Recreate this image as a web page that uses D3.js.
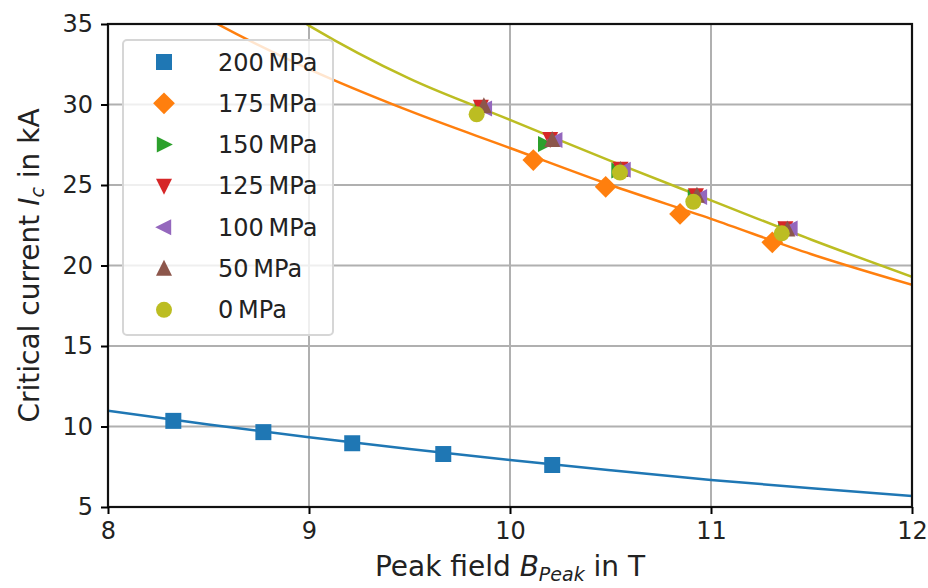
<!DOCTYPE html>
<html><head><meta charset="utf-8">
<script src="https://cdn.jsdelivr.net/npm/d3@7"></script>
<style>body{margin:0;background:#fff}svg{display:block}text{font-family:"DejaVu Sans",sans-serif}</style>
</head><body><svg id="c" width="928" height="588"></svg>
<script>
// ---- data ----
const seriesNames = ["200 MPa","175 MPa","150 MPa","125 MPa","100 MPa","50 MPa","0 MPa"];
const seriesColors = ["#1f77b4","#ff7f0e","#2ca02c","#d62728","#9467bd","#8c564b","#bcbd22"];
const seriesSymbols = ["square","diamond","triRight","triDown","triLeft","triUp","circle"];
const b200 = [8.325, 8.773, 9.215, 9.668, 10.21];
const i200 = [10.35, 9.65, 8.96, 8.29, 7.61];
const b175 = [10.116, 10.476, 10.846, 11.305];
const i175 = [26.55, 24.89, 23.2, 21.44];
const b150 = [9.86, 10.175, 10.54, 10.92, 11.37];
const i150 = [29.75, 27.55, 25.9, 24.25, 22.25];
const b125 = [9.855, 10.2, 10.55, 10.925, 11.37];
const i125 = [29.85, 27.85, 26.0, 24.35, 22.3];
const b100 = [9.875, 10.225, 10.565, 10.945, 11.395];
const i100 = [29.75, 27.8, 25.95, 24.25, 22.3];
const b50 = [9.87, 10.21, 10.55, 10.93, 11.38];
const i50 = [29.9, 27.8, 25.95, 24.35, 22.25];
const b0 = [9.834, 10.547, 10.912, 11.352];
const i0 = [29.39, 25.77, 23.96, 22.0];
// fitted curves
const fitB = [8.0, 8.5, 9.0, 9.5, 10.0, 10.5, 11.0, 11.5, 12.0];
const fit200 = [10.98, 10.13, 9.33, 8.6, 7.92, 7.28, 6.68, 6.16, 5.68];
const fit175 = [39.0, 35.3, 32.2, 29.6, 27.3, 25.0, 22.9, 20.7, 18.8];
const fit0 = [43.5, 39.0, 34.9, 31.6, 29.05, 26.5, 24.05, 21.6, 19.3];
const xTicks = [8, 9, 10, 11, 12];
const yTicks = [5, 10, 15, 20, 25, 30, 35];

const seriesB = [b200, b175, b150, b125, b100, b50, b0];
const seriesI = [i200, i175, i150, i125, i100, i50, i0];
const fits = [{v: fit200, c: 0}, {v: fit175, c: 1}, {v: fit0, c: 6}];

// ---- layout ----
const L = 108, R = 912, T = 24, B = 507;
const svg = d3.select("#c");
const x = d3.scaleLinear().domain([8, 12]).range([L, R]);
const y = d3.scaleLinear().domain([5, 35]).range([B, T]);

svg.append("defs").append("clipPath").attr("id", "clip")
  .append("rect").attr("x", L).attr("y", T).attr("width", R - L).attr("height", B - T);

// grid
const g = svg.append("g");
g.selectAll(".gx").data(xTicks).join("line")
  .attr("x1", d => x(d)).attr("x2", d => x(d)).attr("y1", T).attr("y2", B)
  .attr("stroke", "#b0b0b0").attr("stroke-width", 2);
g.selectAll(".gy").data(yTicks).join("line")
  .attr("y1", d => y(d)).attr("y2", d => y(d)).attr("x1", L).attr("x2", R)
  .attr("stroke", "#b0b0b0").attr("stroke-width", 2);

// fit lines
const line = d3.line().x((d, i) => x(fitB[i])).y(d => y(d)).curve(d3.curveMonotoneX);
const plot = svg.append("g").attr("clip-path", "url(#clip)");
fits.forEach(f => {
  plot.append("path").attr("d", line(f.v)).attr("fill", "none")
    .attr("stroke", seriesColors[f.c]).attr("stroke-width", 2.5);
});

// markers
function sym(sel, kind, s) {
  const h = s / 2;
  let d;
  switch (kind) {
    case "square": d = `M${-h},${-h}H${h}V${h}H${-h}Z`; break;
    case "diamond": { const r = s * 0.68; d = `M0,${-r}L${r},0L0,${r}L${-r},0Z`; break; }
    case "triUp": d = `M0,${-h*1.1}L${h},${h*0.9}L${-h},${h*0.9}Z`; break;
    case "triDown": d = `M0,${h*1.1}L${h},${-h*0.9}L${-h},${-h*0.9}Z`; break;
    case "triRight": d = `M${h*1.1},0L${-h*0.9},${-h}L${-h*0.9},${h}Z`; break;
    case "triLeft": d = `M${-h*1.1},0L${h*0.9},${-h}L${h*0.9},${h}Z`; break;
    case "circle": d = d3.symbol(d3.symbolCircle, Math.PI * h * h)(); break;
  }
  return sel.append("path").attr("d", d);
}
seriesB.forEach((bs, si) => {
  const gs = plot.append("g");
  bs.forEach((b, k) => {
    sym(gs, seriesSymbols[si], 16)
      .attr("transform", `translate(${x(b)},${y(seriesI[si][k])})`)
      .attr("fill", seriesColors[si]);
  });
});

// spines
svg.append("rect").attr("x", L).attr("y", T).attr("width", R - L).attr("height", B - T)
  .attr("fill", "none").attr("stroke", "#111").attr("stroke-width", 2.2);

// axes
const xa = svg.append("g").attr("transform", `translate(0,${B})`)
  .call(d3.axisBottom(x).tickValues(xTicks).tickSize(7).tickPadding(8).tickFormat(d3.format("d")));
const ya = svg.append("g").attr("transform", `translate(${L},0)`)
  .call(d3.axisLeft(y).tickValues(yTicks).tickSize(7).tickPadding(8).tickFormat(d3.format("d")));
[xa, ya].forEach(a => {
  a.select(".domain").remove();
  a.selectAll(".tick line").attr("stroke", "#000").attr("stroke-width", 2);
  a.selectAll("text").attr("font-size", 24).attr("fill", "#222").attr("font-family", "DejaVu Sans");
});

// axis labels
const xl = svg.append("text").attr("x", (L + R) / 2).attr("y", 576).attr("text-anchor", "middle")
  .attr("font-size", 28).attr("fill", "#222");
xl.append("tspan").text("Peak field ");
xl.append("tspan").attr("font-style", "italic").text("B");
xl.append("tspan").attr("font-style", "italic").attr("font-size", 19).attr("dy", 5).text("Peak");
xl.append("tspan").attr("dy", -5).text(" in T");

const yl = svg.append("text").attr("transform", `translate(39,${(T + B) / 2}) rotate(-90)`)
  .attr("text-anchor", "middle").attr("font-size", 28).attr("fill", "#222");
yl.append("tspan").text("Critical current ");
yl.append("tspan").attr("font-style", "italic").text("I");
yl.append("tspan").attr("font-style", "italic").attr("font-size", 19).attr("dy", 5).text("c");
yl.append("tspan").attr("dy", -5).text(" in kA");

// legend
const lg = svg.append("g");
lg.append("rect").attr("x", 123).attr("y", 40).attr("width", 210).attr("height", 295)
  .attr("rx", 4).attr("fill", "#fff").attr("fill-opacity", 0.8)
  .attr("stroke", "#d6d6d6").attr("stroke-width", 2);
seriesNames.forEach((n, i) => {
  const yy = 62 + i * 41.3;
  sym(lg, seriesSymbols[i], 16).attr("transform", `translate(164,${yy})`).attr("fill", seriesColors[i]);
  lg.append("text").attr("x", 218).attr("y", yy + 8.5).attr("font-size", 24).attr("fill", "#222")
    .text(n.replace(" ", "\u2009"));
});
</script></body></html>
